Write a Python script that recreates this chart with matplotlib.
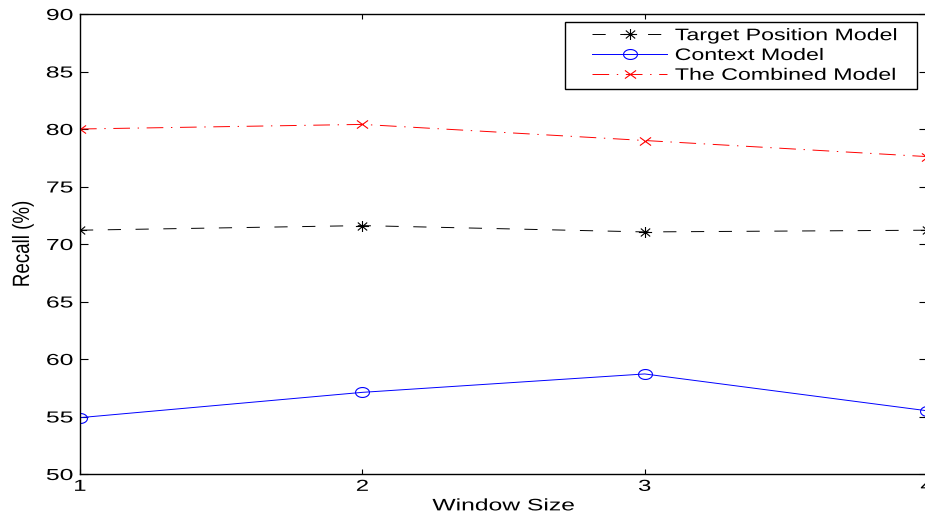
import numpy as np
import matplotlib.pyplot as plt
from matplotlib.path import Path
from matplotlib.patheffects import AbstractPathEffect
from matplotlib.transforms import Affine2D
from matplotlib.lines import Line2D
from matplotlib.legend_handler import HandlerLine2D

plt.rcParams['font.family'] = ['Liberation Sans', 'DejaVu Sans']
plt.rcParams['lines.scale_dashes'] = False

# data
window_size = [1, 2, 3, 4]
target_position = [71.2, 71.6, 71.05, 71.2]
context = [54.9, 57.1, 58.7, 55.5]
combined = [80.0, 80.4, 79.0, 77.6]


# the original export is stretched sideways, so widen glyphs the same way
class Stretch(AbstractPathEffect):
    def __init__(self, s, anchor='center', axis='x'):
        super().__init__()
        self.s = s
        self.anchor = anchor
        self.axis = axis

    def draw_path(self, renderer, gc, tpath, affine, rgbFace=None):
        ext = tpath.get_extents()
        if self.axis == 'x':
            lo, hi = ext.x0, ext.x1
        else:
            lo, hi = ext.y0, ext.y1
        a = {'left': lo, 'center': (lo + hi) / 2, 'right': hi}[self.anchor]
        if self.axis == 'x':
            t = Affine2D().translate(-a, 0).scale(self.s, 1).translate(a, 0)
        else:
            t = Affine2D().translate(0, -a).scale(1, self.s).translate(0, a)
        renderer.draw_path(gc, tpath, t + affine, rgbFace)


# stretched markers (MATLAB style)
theta = np.linspace(0, 2 * np.pi, 60)
ellipse = Path(np.column_stack([1.4 * np.cos(theta), np.sin(theta)]), closed=True)
cross = Path([(-1.37, -1), (1.37, 1), (-1.37, 1), (1.37, -1)],
             [Path.MOVETO, Path.LINETO, Path.MOVETO, Path.LINETO])
star = Path([(-1.2, 0), (1.2, 0), (0, -1), (0, 1),
             (-0.85, -0.72), (0.85, 0.72), (-0.85, 0.72), (0.85, -0.72)],
            [Path.MOVETO, Path.LINETO] * 4)

fig = plt.figure(figsize=(9.25, 5.19), dpi=100)
# axes run slightly past the right edge, like the original export
ax = fig.add_axes([80 / 925, 1 - 474 / 519, 847 / 925, 460 / 519])

ax.plot(window_size, target_position, color='black', linestyle=(0, (9.5, 10.5)), linewidth=0.7,
        marker=star, markersize=9.5, markerfacecolor='none', markeredgewidth=0.8,
        label='Target Position Model')
ax.plot(window_size, context, color='blue', linestyle='-', linewidth=0.7,
        marker=ellipse, markersize=10, markerfacecolor='none', markeredgewidth=0.8,
        label='Context Model')
ax.plot(window_size, combined, color='red', linestyle=(0, (12, 5.5, 1, 5.5)), linewidth=0.7,
        marker=cross, markersize=8, markerfacecolor='none', markeredgewidth=0.8,
        label='The Combined Model')

ax.set_xlim(1, 4)
ax.set_ylim(50, 90)
ax.set_xticks(window_size)
ax.set_yticks(range(50, 91, 5))
ax.tick_params(axis='both', direction='in', top=True, right=True, labelsize=11.5, width=0.8)
ax.tick_params(axis='y', length=5.8, pad=5)
ax.tick_params(axis='x', length=3.6, pad=3.5)
for s in ax.spines.values():
    s.set_linewidth(1.0)

for lab in ax.get_xticklabels():
    lab.set_path_effects([Stretch(1.5, 'center')])
for lab in ax.get_yticklabels():
    lab.set_path_effects([Stretch(1.55, 'right')])

ax.set_xlabel('Window Size', fontsize=12)
ax.set_ylabel('Recall (%)', fontsize=13.5)
ax.xaxis.set_label_coords(0.5, -0.053)
ax.yaxis.set_label_coords(-0.057, 0.5)
ax.xaxis.label.set_path_effects([Stretch(1.48, 'center')])
ax.yaxis.label.set_path_effects([Stretch(1.25, 'center', axis='y')])

leg = ax.legend(loc='upper left', bbox_to_anchor=(565 / 925, 1 - 89 / 519, 352 / 925, 67 / 519),
                bbox_transform=fig.transFigure, mode='expand', fontsize=12,
                handlelength=5.75, handletextpad=0.48, borderpad=0.37, labelspacing=0.29,
                fancybox=False, edgecolor='black', borderaxespad=0, framealpha=1,
                handler_map={Line2D: HandlerLine2D(xpad=1.25)})
leg.get_frame().set_linewidth(1.0)
for t in leg.get_texts():
    t.set_path_effects([Stretch(1.39, 'left')])

fig.savefig('out.png', dpi=100)
